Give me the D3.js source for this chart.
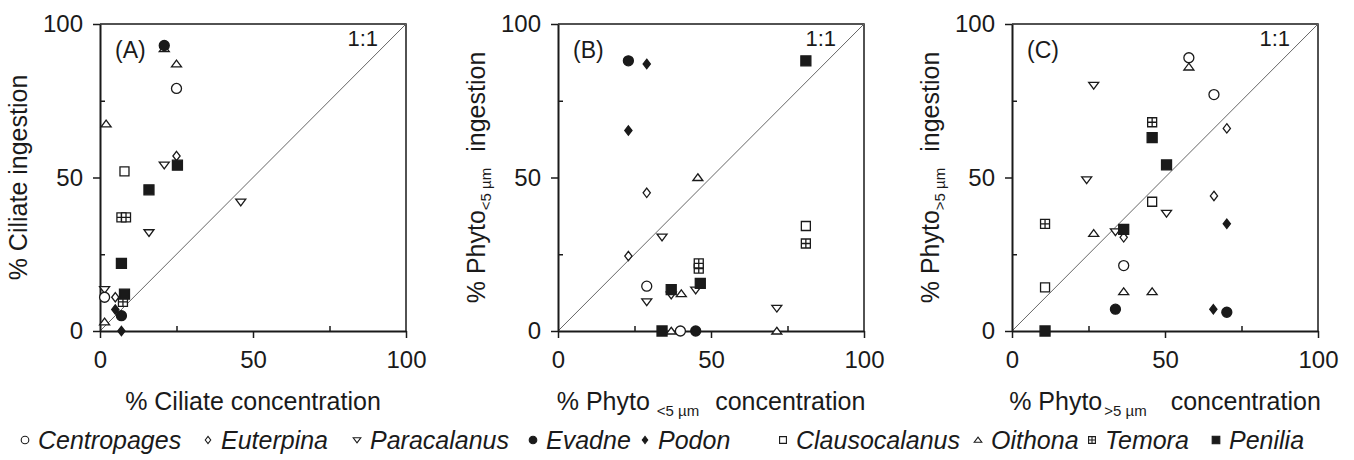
<!DOCTYPE html>
<html>
<head>
<meta charset="utf-8">
<script src="https://cdn.jsdelivr.net/npm/d3@7"></script>
<style>
  body { margin: 0; background: #fff; }
  svg { display: block; font-family: 'Liberation Sans', Arial, sans-serif; }
</style>
</head>
<body>
<div id="chart"></div>
<script>
// species and their marker shapes
const species = ['Centropages', 'Euterpina', 'Paracalanus', 'Evadne', 'Podon', 'Clausocalanus', 'Oithona', 'Temora', 'Penilia'];
const shapes = ['circle', 'diamond', 'triDown', 'circleFill', 'diamondFill', 'square', 'triUp', 'temora', 'squareFill'];

// [species, % concentration, % ingestion]
const panelA = [
	['Oithona', 21, 92], ['Evadne', 21, 93], ['Oithona', 25, 87], ['Centropages', 25, 79],
	['Oithona', 2, 67.5], ['Euterpina', 25, 57], ['Paracalanus', 21, 54], ['Penilia', 25.3, 54],
	['Clausocalanus', 8, 52], ['Penilia', 16, 46], ['Paracalanus', 46, 42], ['Temora', 7, 37],
	['Temora', 8.5, 37], ['Paracalanus', 16, 32], ['Penilia', 7, 22], ['Paracalanus', 1.5, 13.5],
	['Centropages', 1.5, 11], ['Euterpina', 5, 11], ['Temora', 7.5, 9.5], ['Penilia', 8, 12],
	['Podon', 5, 7], ['Evadne', 7, 5], ['Oithona', 1.5, 3], ['Podon', 7, 0]
];
const panelB = [
	['Evadne', 23, 88], ['Podon', 29, 87], ['Podon', 23, 65.3], ['Euterpina', 29, 45],
	['Oithona', 45.7, 50], ['Paracalanus', 34, 30.6], ['Euterpina', 23, 24.4], ['Temora', 46, 20.3],
	['Temora', 46, 22], ['Centropages', 29, 14.6], ['Paracalanus', 29, 9.5], ['Paracalanus', 37, 11.7],
	['Penilia', 37, 13.5], ['Oithona', 40.3, 12.2], ['Paracalanus', 45, 13.3], ['Penilia', 46.5, 15.5],
	['Penilia', 34, 0], ['Oithona', 37, 0], ['Centropages', 40, 0], ['Evadne', 45, 0],
	['Penilia', 81, 88], ['Clausocalanus', 81, 34.2], ['Temora', 81, 28.5], ['Paracalanus', 71.5, 7.4],
	['Oithona', 71.5, 0]
];
const panelC = [
	['Oithona', 57.8, 86], ['Centropages', 57.8, 89], ['Centropages', 66, 77], ['Centropages', 36.5, 21.3],
	['Euterpina', 70.2, 66], ['Euterpina', 66, 44], ['Euterpina', 36.5, 30.5], ['Paracalanus', 26.7, 80],
	['Paracalanus', 24.4, 49.2], ['Paracalanus', 33.8, 32.3], ['Paracalanus', 50.5, 38.3], ['Evadne', 33.8, 7.1],
	['Evadne', 70.2, 6.1], ['Podon', 70.2, 34.9], ['Podon', 65.8, 7.1], ['Clausocalanus', 45.8, 42.1],
	['Clausocalanus', 10.8, 14.2], ['Oithona', 26.7, 31.8], ['Oithona', 36.5, 12.8], ['Oithona', 45.8, 12.8],
	['Temora', 45.8, 68], ['Temora', 10.8, 34.9], ['Penilia', 45.8, 63], ['Penilia', 50.5, 54.1],
	['Penilia', 36.5, 33.1], ['Penilia', 10.8, 0]
];

const majorTicks = [0, 50, 100];
const minorTicks = [25, 75];
const panelLetters = ['(A)', '(B)', '(C)'];

const W = 1354, H = 460;
const plotTop = 24, plotBottom = 331, side = 306;
const lefts = [100, 558, 1012];
const ink = '#1a1a1a';

const svg = d3.select('#chart').append('svg').attr('width', W).attr('height', H);

const shapeOf = d3.scaleOrdinal().domain(species).range(shapes);

// marker path, r = half width
function markerPath(shape, r) {
	const p = d3.path();
	if (shape === 'circle' || shape === 'circleFill') {
		p.arc(0, 0, r, 0, 2 * Math.PI);
	} else if (shape === 'diamond' || shape === 'diamondFill') {
		const h = r * 1.1;
		p.moveTo(0, -h); p.lineTo(r * 0.85, 0); p.lineTo(0, h); p.lineTo(-r * 0.85, 0); p.closePath();
	} else if (shape === 'triUp') {
		p.moveTo(0, -r * 0.75); p.lineTo(r, r * 0.6); p.lineTo(-r, r * 0.6); p.closePath();
	} else if (shape === 'triDown') {
		p.moveTo(0, r * 0.75); p.lineTo(r, -r * 0.6); p.lineTo(-r, -r * 0.6); p.closePath();
	} else {
		p.rect(-r, -r, 2 * r, 2 * r);
		if (shape === 'temora') {
			p.moveTo(0, -r); p.lineTo(0, r);
			p.moveTo(-r, 0); p.lineTo(r, 0);
		}
	}
	return p.toString();
}

function isFilled(shape) {
	return shape === 'circleFill' || shape === 'diamondFill' || shape === 'squareFill';
}

function sizeFor(shape, r) {
	if (shape === 'diamond' || shape === 'diamondFill') return r * 0.85;
	if (shape === 'temora' || shape === 'square') return r * 0.9;
	return r;
}

function drawMarkers(g, data, x, y, r) {
	g.selectAll('path.mk')
		.data(data)
		.join('path')
		.attr('class', 'mk')
		.attr('transform', d => `translate(${x(d[1])},${y(d[2])})`)
		.attr('d', d => markerPath(shapeOf(d[0]), sizeFor(shapeOf(d[0]), r)))
		.attr('fill', d => isFilled(shapeOf(d[0])) ? ink : '#fff')
		.attr('stroke', ink)
		.attr('stroke-width', 1.3);
}

// axis titles: arrays of [text, isSub, gap before]
const xTitles = [
	[['% Ciliate concentration', false, 0]],
	[['% Phyto ', false, 0], ['<5 µm', true, 0], ['concentration', false, 16]],
	[['% Phyto', false, 0], ['>5 µm', true, 2], ['concentration', false, 24]]
];
const yTitles = [
	[['% Ciliate ingestion', false, 0]],
	[['% Phyto', false, 0], ['<5 µm', true, 0], ['ingestion', false, 16]],
	[['% Phyto', false, 0], ['>5 µm', true, 0], ['ingestion', false, 16]]
];

function addTitle(text, parts) {
	let shifted = false;
	parts.forEach(([t, sub, gap]) => {
		let dy = 0;
		if (sub && !shifted) { dy = 6; shifted = true; }
		else if (!sub && shifted) { dy = -6; shifted = false; }
		text.append('tspan')
			.attr('font-size', sub ? 15 : 25)
			.attr('dx', gap)
			.attr('dy', dy)
			.style('white-space', 'pre')
			.text(t);
	});
}

const panels = [panelA, panelB, panelC];

panels.forEach((data, i) => {
	const x0 = lefts[i];
	const x = d3.scaleLinear().domain([0, 100]).range([x0, x0 + side]);
	const y = d3.scaleLinear().domain([0, 100]).range([plotBottom, plotTop]);
	const g = svg.append('g');

	// frame top and right
	g.append('path')
		.attr('d', `M${x0},${plotTop}H${x0 + side}V${plotBottom}`)
		.attr('fill', 'none').attr('stroke', ink).attr('stroke-width', 1.5);

	// 1:1 line
	g.append('line')
		.attr('x1', x(0)).attr('y1', y(0)).attr('x2', x(100)).attr('y2', y(100))
		.attr('stroke', '#666').attr('stroke-width', 1);
	g.append('text')
		.attr('x', x0 + side - 28).attr('y', 46)
		.attr('text-anchor', 'end').attr('font-size', 22).attr('fill', ink)
		.text('1:1');
	g.append('text')
		.attr('x', x0 + 15).attr('y', 58)
		.attr('font-size', 23).attr('fill', ink)
		.text(panelLetters[i]);

	// axes
	g.append('g').attr('transform', `translate(0,${plotBottom})`)
		.call(d3.axisBottom(x).tickValues(majorTicks).tickSize(7).tickSizeOuter(0).tickPadding(13));
	g.append('g').attr('transform', `translate(0,${plotBottom})`)
		.call(d3.axisBottom(x).tickValues(minorTicks).tickSize(-5).tickSizeOuter(0).tickFormat(''))
		.select('.domain').remove();
	g.append('g').attr('transform', `translate(${x0},0)`)
		.call(d3.axisLeft(y).tickValues(majorTicks).tickSize(7).tickSizeOuter(0).tickPadding(10));
	g.append('g').attr('transform', `translate(${x0},0)`)
		.call(d3.axisLeft(y).tickValues(minorTicks).tickSize(-5).tickSizeOuter(0).tickFormat(''))
		.select('.domain').remove();
	g.selectAll('.domain').attr('stroke', ink).attr('stroke-width', 2);
	g.selectAll('.tick line').attr('stroke', ink).attr('stroke-width', 1.5);
	g.selectAll('.tick text').attr('font-size', 24).attr('fill', ink)
		.attr('font-family', "'Liberation Sans', Arial, sans-serif");

	drawMarkers(g.append('g'), data, x, y, 5);

	// titles
	const xt = g.append('text')
		.attr('x', x0 + side / 2).attr('y', 410)
		.attr('text-anchor', 'middle').attr('fill', ink);
	addTitle(xt, xTitles[i]);
	const yt = g.append('text')
		.attr('transform', `translate(${x0 - 82},${(plotTop + plotBottom) / 2}) rotate(-90)`)
		.attr('y', 9)
		.attr('text-anchor', 'middle').attr('fill', ink);
	addTitle(yt, yTitles[i]);
});

// legend
const legendX = [25, 208, 357, 533, 645, 783, 978, 1092, 1216];
const lg = svg.append('g');
species.forEach((s, i) => {
	const item = lg.append('g').attr('transform', `translate(${legendX[i]},440)`);
	const sh = shapeOf(s);
	item.append('path')
		.attr('d', markerPath(sh, sizeFor(sh, 3.8)))
		.attr('fill', isFilled(sh) ? ink : '#fff')
		.attr('stroke', ink).attr('stroke-width', 1.1);
	item.append('text')
		.attr('x', 13).attr('y', 9)
		.attr('font-size', 25).attr('font-style', 'italic').attr('fill', ink)
		.text(s);
});
</script>
</body>
</html>
